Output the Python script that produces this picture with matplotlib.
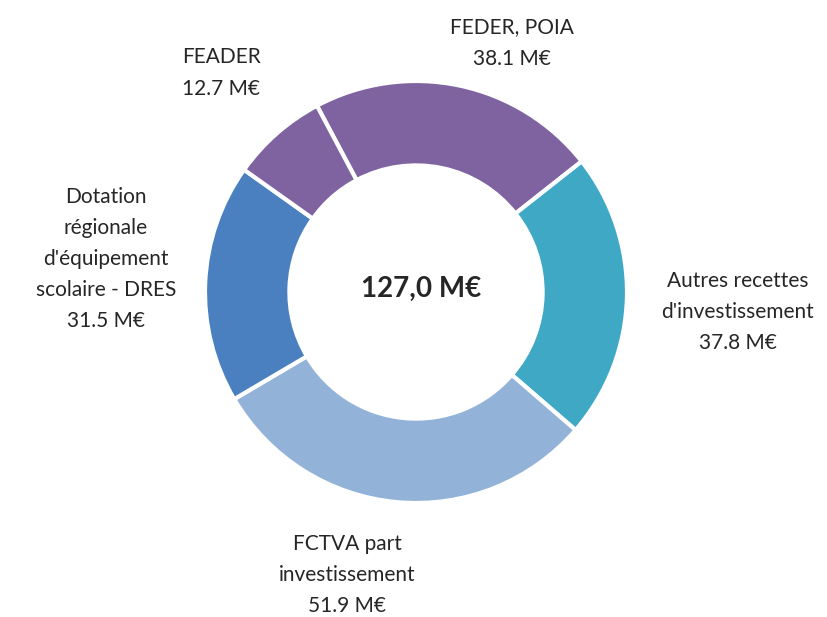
import matplotlib.pyplot as plt

# Données du graphique (ordre horaire à partir de FEDER, POIA)
labels = ['FEDER, POIA', "Autres recettes\nd'investissement", 'FCTVA part\ninvestissement',
          "Dotation\nrégionale\nd'équipement\nscolaire - DRES", 'FEADER']
values = [38.1, 37.8, 51.9, 31.5, 12.7]
colors = ['#7E63A0', '#3FA9C5', '#93B2D7', '#4A7FC0', '#7E63A0']
total_label = '127,0 M€'

# positions des étiquettes (en pixels, y vers le haut)
label_pos = [(512, 574), (738, 305), (347, 42), (106, 358), (221, 544)]

W, H = 827, 617
fig = plt.figure(figsize=(W / 100, H / 100), dpi=100)
ax = fig.add_axes([0, 0, 1, 1])

cx, cy = 416, H - 292
R = 211
ax.pie(values, colors=colors, startangle=118, counterclock=False,
       center=(cx, cy), radius=R, frame=True,
       wedgeprops=dict(width=R * 0.40, edgecolor='white', linewidth=3))
ax.set_xlim(0, W)
ax.set_ylim(0, H)
ax.set_aspect('equal')
ax.axis('off')

font = 'Lato'
for lab, v, (x, y) in zip(labels, values, label_pos):
    ax.text(x, y, f'{lab}\n{v} M€', ha='center', va='center', fontsize=15,
            family=font, color='#262626', linespacing=1.7)

ax.text(cx + 5, cy + 3, total_label, ha='center', va='center', fontsize=20,
        fontweight='bold', family=font, color='#262626')

fig.savefig('out.png', dpi=100)
